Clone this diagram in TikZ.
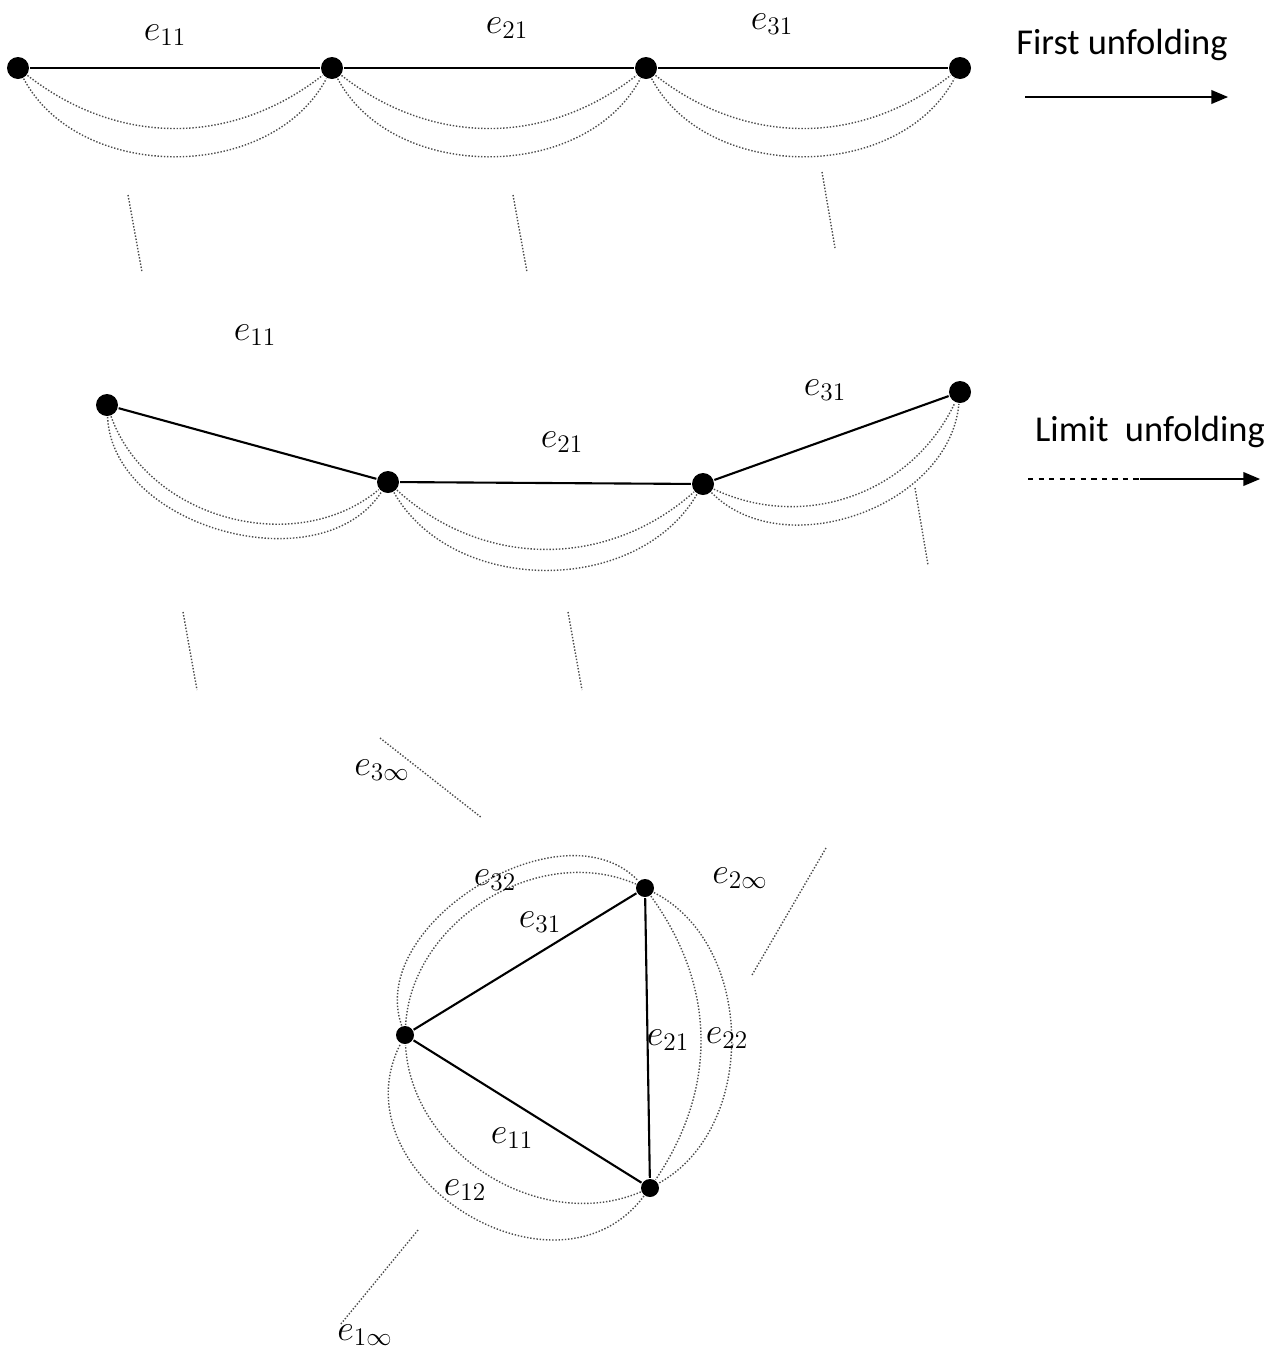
\documentclass[tikz,border=0pt]{standalone}
\usepackage{fontspec}
\newfontfamily\capfont{Carlito}
\usetikzlibrary{arrows,positioning}

\begin{document}
\begin{tikzpicture}[x=0.02cm,y=-0.02cm,>=stealth',very thick,
  vertex/.style={circle,fill=black,inner sep=0pt,minimum size=0.44cm},
  arc/.style={densely dotted,gray!60!black,thick},
  etc/.style={densely dotted,gray!60!black,thick},
  lab/.style={font=\huge}]
  \tikzstyle{caption} = [font=\capfont\huge]
  \useasboundingbox (0,0) rectangle (1270,1353);

  % first row
  \node[vertex] (A1) at (18,68) {};
  \node[vertex] (A2) at (332,68) {};
  \node[vertex] (A3) at (646,68) {};
  \node[vertex] (A4) at (960,68) {};
  \draw (A1) -- (A2) -- (A3) -- (A4);
  \foreach \u/\v in {A1/A2,A2/A3,A3/A4}{
    \draw[arc] (\u) to[bend right=38] (\v);
    \draw[arc] (\u) to[bend right=62] (\v);
  }
  \node[lab] (L11) at (165,35) {$e_{11}$};
  \node[lab] (L21) at (507,28) {$e_{21}$};
  \node[lab] (L31) at (772,24) {$e_{31}$};
  \node[caption] (FIRST) at (1122,45) {First unfolding};
  \coordinate (F0) at (1025,97);
  \coordinate (F1) at (1228,97);
  \draw[->,>=triangle 45] (F0) -- (F1);

  \foreach \i/\x/\y/\xx/\yy in {1/128/195/142/272,2/513/195/527/272,3/822/172/835/248,
      4/183/612/197/690,5/568/612/582/690,6/915/488/928/565}{
    \coordinate (d\i a) at (\x,\y);
    \coordinate (d\i b) at (\xx,\yy);
    \draw[etc] (d\i a) -- (d\i b);
  }

  % second row
  \node[vertex] (B1) at (107,405) {};
  \node[vertex] (B2) at (388,482) {};
  \node[vertex] (B3) at (703,484) {};
  \node[vertex] (B4) at (960,392) {};
  \draw (B1) -- (B2) -- (B3) -- (B4);
  \draw[arc] (B1) to[bend right=55] (B2);
  \draw[arc] (B1) to[bend right=72] (B2);
  \draw[arc] (B2) to[bend right=42] (B3);
  \draw[arc] (B2) to[bend right=60] (B3);
  \draw[arc] (B3) to[bend right=45] (B4);
  \draw[arc] (B3) to[bend right=65] (B4);
  \node[lab] (M11) at (255,335) {$e_{11}$};
  \node[lab] (M21) at (562,442) {$e_{21}$};
  \node[lab] (M31) at (825,390) {$e_{31}$};
  \node[caption] (LIMIT) at (1150,432) {Limit\ \ unfolding};
  \coordinate (G0) at (1028,479);
  \coordinate (G1) at (1140,479);
  \coordinate (G2) at (1260,479);
  \draw[dashed,thick] (G0) -- (G1);
  \draw[->,>=triangle 45] (G1) -- (G2);

  % limit triangle
  \node[vertex,minimum size=0.36cm] (T1) at (405,1035) {};
  \node[vertex,minimum size=0.36cm] (T2) at (645,888) {};
  \node[vertex,minimum size=0.36cm] (T3) at (650,1188) {};
  \draw (T1) -- (T2) -- (T3) -- (T1);
  \draw[arc] (T1) to[bend left=55] (T2);
  \draw[arc] (T1) to[bend left=78] (T2);
  \draw[arc] (T2) to[bend left=35] (T3);
  \draw[arc] (T2) to[bend left=62] (T3);
  \draw[arc] (T3) to[bend left=55] (T1);
  \draw[arc] (T3) to[bend left=85,looseness=1.3] (T1);
  \foreach \i/\x/\y/\xx/\yy in {7/380/738/482/818,8/826/848/752/975,9/418/1230/340/1325}{
    \coordinate (d\i a) at (\x,\y);
    \coordinate (d\i b) at (\xx,\yy);
    \draw[etc] (d\i a) -- (d\i b);
  }
  \node[lab] (E3i) at (382,770) {$e_{3\infty}$};
  \node[lab] (E32) at (495,880) {$e_{32}$};
  \node[lab] (E31) at (540,922) {$e_{31}$};
  \node[lab] (E2i) at (740,878) {$e_{2\infty}$};
  \node[lab] (E21) at (668,1040) {$e_{21}$};
  \node[lab] (E22) at (727,1038) {$e_{22}$};
  \node[lab] (E11) at (512,1138) {$e_{11}$};
  \node[lab] (E12) at (465,1190) {$e_{12}$};
  \node[lab] (E1i) at (365,1335) {$e_{1\infty}$};
\end{tikzpicture}
\end{document}
